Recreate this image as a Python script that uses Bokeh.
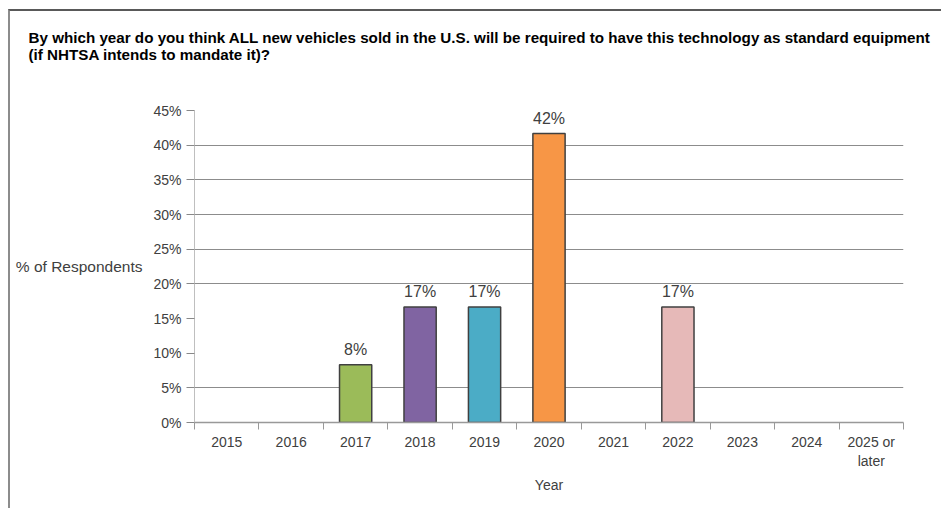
from bokeh.plotting import figure
from bokeh.models import (Range1d, ColumnDataSource, LabelSet, Label, Title, Grid,
                          LinearAxis, FixedTicker, PrintfTickFormatter)
from bokeh.core.properties import value
from bokeh.embed import file_html
from bokeh.resources import INLINE

categories = ["2015", "2016", "2017", "2018", "2019", "2020", "2021", "2022", "2023", "2024", "2025 or\nlater"]
values = [0, 0, 8.33, 16.67, 16.67, 41.67, 0, 16.67, 0, 0, 0]
colors = ["#9BBB59", "#9BBB59", "#9BBB59", "#8064A2", "#4BACC6", "#F79646", "#C0504D", "#E6B9B8", "#9BBB59", "#9BBB59", "#9BBB59"]
y_ticks = [0, 5, 10, 15, 20, 25, 30, 35, 40, 45]
grid_ticks = [5, 20, 25, 30, 35, 40]
title_text = ("By which year do you think ALL new vehicles sold in the U.S. will be required to have this technology as standard equipment\n"
              "(if NHTSA intends to mandate it)?")
y_label = "% of Respondents"
x_label = "Year"

FONT = "Liberation Sans"
n = len(categories)
centers = [i + 0.5 for i in range(n)]

idx = [i for i, v in enumerate(values) if v > 0]
src = ColumnDataSource(dict(
    x=[centers[i] for i in idx],
    val=[values[i] for i in idx],
    col=[colors[i] for i in idx],
    lab=["%d%%" % round(values[i]) for i in idx],
))

p = figure(width=933, height=499, x_range=Range1d(0, n),
           y_range=Range1d(0, 45), output_backend="svg", toolbar_location=None,
           x_axis_location=None, y_axis_location=None,
           min_border_left=184, min_border_right=40, min_border_top=0, min_border_bottom=88)

p.title = Title(text=title_text, text_font=FONT, text_font_size="15.2px", text_font_style="bold",
                text_color="#000000", align="left", offset=-166, standoff=31)

# invisible spacer between title and plot area
spacer = LinearAxis(ticker=FixedTicker(ticks=[0]))
spacer.axis_line_color = None
spacer.major_tick_line_color = "#FFFFFF"
spacer.minor_tick_line_color = None
spacer.major_tick_out = 32
spacer.major_tick_in = 0
spacer.major_label_standoff = 0
spacer.major_label_text_font_size = "0px"
p.add_layout(spacer, "above")

p.vbar(x="x", top="val", width=0.5, source=src, fill_color="col",
       line_color="#404040", line_width=1.5)

p.add_layout(LabelSet(x="x", y="val", text="lab", source=src, text_align="center",
                      text_baseline="bottom", y_offset=7, text_font=value(FONT),
                      text_font_size="16px", text_color="#404040"))

yax = LinearAxis(ticker=FixedTicker(ticks=y_ticks), formatter=PrintfTickFormatter(format="%d%%"))
yax.axis_line_color = "#BFBFBF"
yax.major_tick_line_color = "#888888"
yax.major_tick_out = 8
yax.major_tick_in = 0
yax.minor_tick_line_color = None
yax.major_label_standoff = 5
yax.major_label_text_font = FONT
yax.major_label_text_font_size = "14px"
yax.major_label_text_color = "#404040"
horiz = "axis_label_orientation" in LinearAxis.properties()
if horiz:
    yax.axis_label = y_label
    yax.axis_label_orientation = "horizontal"
    yax.axis_label_standoff = 8
    yax.axis_label_text_font = FONT
    yax.axis_label_text_font_size = "15.5px"
    yax.axis_label_text_font_style = "normal"
    yax.axis_label_text_color = "#404040"
p.add_layout(yax, "left")

bax = LinearAxis(ticker=FixedTicker(ticks=list(range(n + 1))))
bax.axis_line_color = "#999999"
bax.axis_line_width = 1.5
bax.major_tick_line_color = "#999999"
bax.major_tick_out = 7
bax.major_tick_in = 0
bax.minor_tick_line_color = None
bax.major_label_text_font_size = "0px"
bax.major_label_standoff = 0
p.add_layout(bax, "below")

xax = LinearAxis(ticker=FixedTicker(ticks=centers),
                 major_label_overrides={c: lab for c, lab in zip(centers, categories)})
xax.axis_line_color = None
xax.major_tick_line_color = None
xax.minor_tick_line_color = None
xax.major_label_standoff = -2
xax.major_label_text_font = FONT
xax.major_label_text_font_size = "14px"
xax.major_label_text_color = "#404040"
xax.axis_label = x_label
xax.axis_label_text_font = FONT
xax.axis_label_text_font_size = "14px"
xax.axis_label_text_font_style = "normal"
xax.axis_label_text_color = "#404040"
xax.axis_label_standoff = 5
p.add_layout(xax, "below")

if not horiz:
    p.add_layout(Label(x=-2.86, y=21.4, text=y_label, text_font=FONT, text_font_size="14px",
                       text_color="#404040", text_baseline="middle", text_align="left"))

p.xgrid.grid_line_color = None
p.ygrid.grid_line_color = None
p.add_layout(Grid(dimension=1, ticker=FixedTicker(ticks=grid_ticks), grid_line_color="#8C8C8C", grid_line_width=1))
p.outline_line_color = None
p.styles = {"margin-left": "8px", "margin-top": "9px",
            "border-top": "2px solid #595959", "border-left": "2px solid #8C8C8C"}

open("out.html", "w").write(file_html(p, INLINE))
